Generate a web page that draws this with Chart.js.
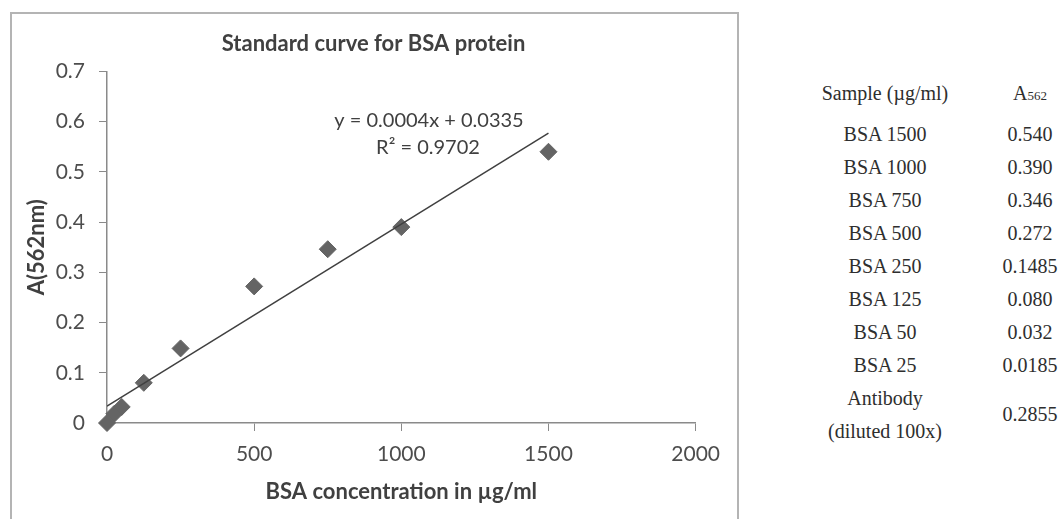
<!DOCTYPE html>
<html>
<head>
<meta charset="utf-8">
<script src="https://cdn.jsdelivr.net/npm/chart.js@4"></script>
<style>
    body { margin: 0; background: #fff; width: 1059px; height: 519px; overflow: hidden; position: relative; }
    #frame { position: absolute; left: 10px; top: 12px; width: 725px; height: 520px;
             border: 2px solid #b4b4b4; border-bottom: none; }
    #chart { position: absolute; left: 11px; top: 13px; }
    #table { position: absolute; left: 0; top: 0; font-family: "Liberation Serif", serif;
             font-size: 20px; color: #2e2e2e; }
    #table div { position: absolute; white-space: nowrap; transform: translate(-50%, -50%); }
    #table sub { font-size: 13px; vertical-align: baseline; }
</style>
</head>
<body>
<div id="frame"></div>
<canvas id="chart" width="720" height="506"></canvas>
<div id="table"></div>
<script>
// BSA standards (µg/ml) and absorbance at 562 nm
const concentrations = [0, 25, 50, 125, 250, 500, 750, 1000, 1500];
const absorbances = [0, 0.0185, 0.032, 0.08, 0.1485, 0.272, 0.346, 0.39, 0.54];

// trendline as drawn in the picture (start / end)
const trendX = [0, 1500];
const trendY = [0.0335, 0.577];

const xTicks = [0, 500, 1000, 1500, 2000];
const yTicks = [0, 0.1, 0.2, 0.3, 0.4, 0.5, 0.6, 0.7];

const equationLines = ['y = 0.0004x + 0.0335', 'R² = 0.9702'];

// table at the right
const antibodyLabel = ['Antibody', '(diluted 100x)'];
const antibodyValue = 0.2855;

const axisGray = '#8a8a8a';
const textGray = '#4d4d4d';
const darkGray = '#404040';
const font = 'Lato';

function fmt(v) {
    const s = String(v);
    const dec = s.includes('.') ? s.split('.')[1].length : 0;
    return dec < 3 ? v.toFixed(3) : s;
}

// build the sample table from the same arrays
function buildTable() {
    const box = document.getElementById('table');
    const add = (html, x, y) => {
        const d = document.createElement('div');
        d.innerHTML = html;
        d.style.left = x + 'px';
        d.style.top = y + 'px';
        box.appendChild(d);
    };
    const colA = 885, colB = 1030;
    add('Sample (µg/ml)', colA, 93);
    add('A<sub>562</sub>', colB, 93);
    const rows = concentrations.map((c, i) => [c, absorbances[i]])
        .filter(r => r[0] > 0)
        .sort((a, b) => b[0] - a[0]);
    rows.forEach((r, i) => {
        const y = 134 + i * 33;
        add('BSA ' + r[0], colA, y);
        add(fmt(r[1]), colB, y);
    });
    add(antibodyLabel[0], colA, 398);
    add(antibodyLabel[1], colA, 431);
    add(fmt(antibodyValue), colB, 414);
}

// equation text next to the trendline
const equationPlugin = {
    id: 'equation',
    afterDatasetsDraw(chart) {
        const { ctx, chartArea } = chart;
        ctx.save();
        ctx.font = '20px ' + font;
        ctx.fillStyle = darkGray;
        ctx.textAlign = 'center';
        ctx.textBaseline = 'middle';
        ctx.fillText(equationLines[0], chartArea.left + 322, chartArea.top + 49);
        ctx.fillText(equationLines[1], chartArea.left + 321, chartArea.top + 76);
        ctx.restore();
    }
};

function xy(xs, ys) {
    return xs.map((x, i) => ({ x: x, y: ys[i] }));
}

buildTable();

new Chart(document.getElementById('chart').getContext('2d'), {
    type: 'scatter',
    data: {
        datasets: [
            {
                type: 'line',
                data: xy(trendX, trendY),
                borderColor: darkGray,
                borderWidth: 1.5,
                pointRadius: 0,
                fill: false
            },
            {
                data: xy(concentrations, absorbances),
                pointStyle: 'rectRot',
                pointRadius: 8.5,
                backgroundColor: '#646464',
                borderColor: '#646464',
                borderWidth: 1,
                clip: false
            }
        ]
    },
    options: {
        responsive: false,
        animation: false,
        devicePixelRatio: 1,
        // left padding keeps the title centred like the original
        layout: { padding: { left: 38, top: 0, right: 33, bottom: 0 } },
        plugins: {
            legend: { display: false },
            tooltip: { enabled: false },
            title: {
                display: true,
                text: 'Standard curve for BSA protein',
                color: darkGray,
                font: { family: font, size: 22, weight: 'bold' },
                padding: { top: 18, bottom: 14 }
            }
        },
        scales: {
            x: {
                type: 'linear',
                min: 0,
                max: 2000,
                afterBuildTicks: s => { s.ticks = xTicks.map(v => ({ value: v })); },
                afterFit: s => { s.height = 96; },
                grid: { drawOnChartArea: false, color: axisGray, tickLength: 8 },
                border: { color: axisGray, width: 1.5 },
                ticks: { color: textGray, padding: 11, font: { family: font, size: 21 },
                         callback: v => String(v) },
                title: {
                    display: true,
                    text: 'BSA concentration in µg/ml',
                    color: darkGray,
                    font: { family: font, size: 22, weight: 'bold' },
                    padding: { top: 0, bottom: 14 }
                }
            },
            y: {
                min: 0,
                max: 0.7,
                afterBuildTicks: s => { s.ticks = yTicks.map(v => ({ value: v })); },
                afterFit: s => { s.width = 58; },
                grid: { drawOnChartArea: false, color: axisGray, tickLength: 8 },
                border: { color: axisGray, width: 1.5 },
                ticks: { color: textGray, padding: 14, font: { family: font, size: 21 },
                         callback: v => String(Math.round(v * 10) / 10) },
                title: {
                    display: true,
                    text: 'A(562nm)',
                    color: darkGray,
                    font: { family: font, size: 22, weight: 'bold' },
                    padding: { top: -25, bottom: 0 }
                }
            }
        }
    },
    plugins: [equationPlugin]
});
</script>
</body>
</html>
